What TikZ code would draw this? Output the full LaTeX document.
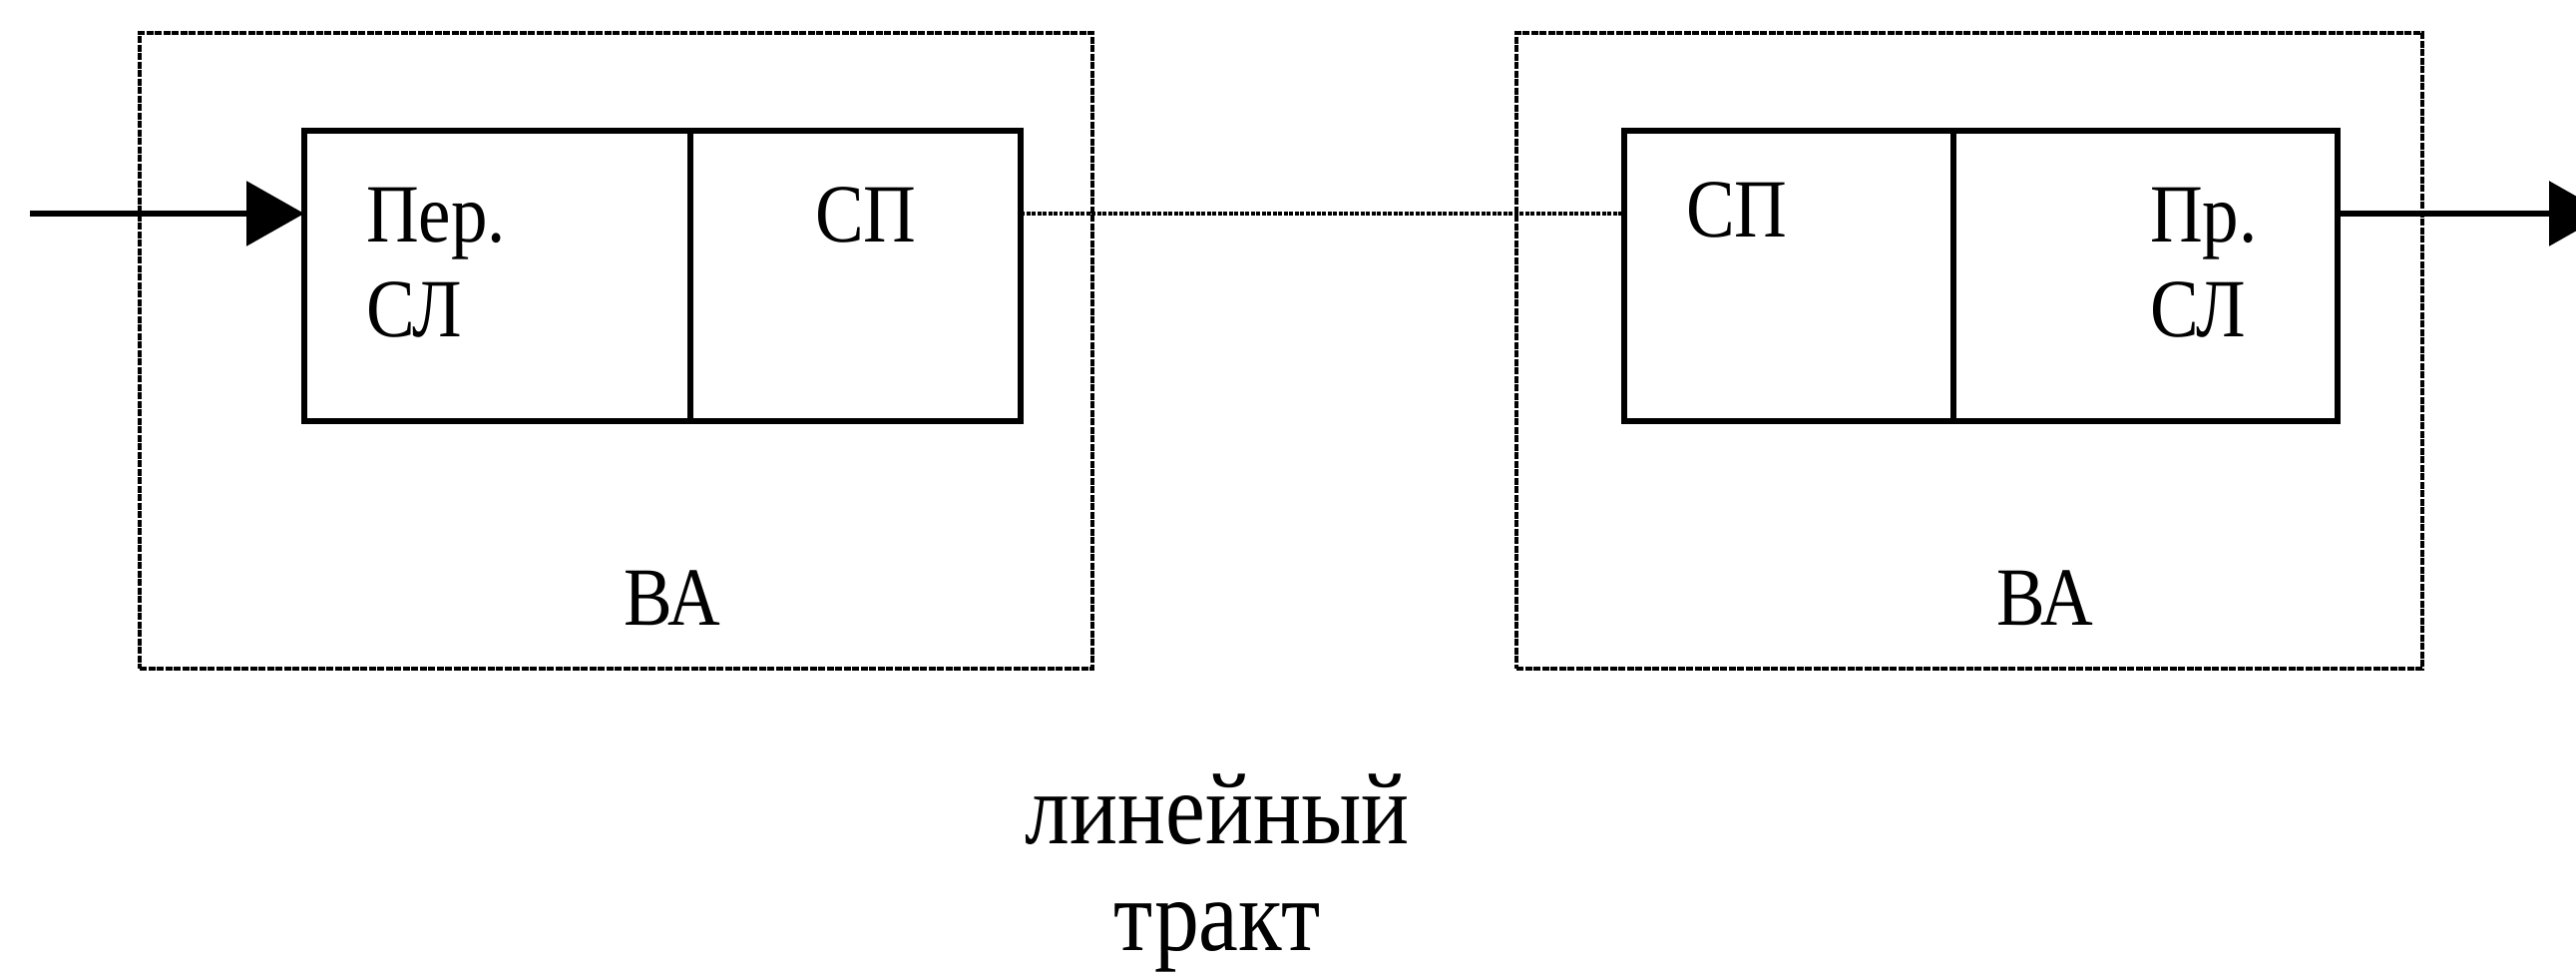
\documentclass[tikz,border=0pt]{standalone}
\usepackage{fontspec}
\setmainfont{Liberation Serif}[FakeStretch=0.88]
\usetikzlibrary{arrows.meta,positioning}

\begin{document}
\begin{tikzpicture}[every node/.style={inner sep=0pt,outer sep=0pt}]
\tikzstyle{va}=[draw,line width=0.045cm,dash pattern=on 0.07cm off 0.015cm,minimum height=6.37cm]
\tikzstyle{cell}=[draw,line width=0.055cm,minimum height=2.91cm]
\tikzstyle{lbl}=[font=\fontsize{23.6}{27}\selectfont,align=left]
\tikzstyle{sig}=[line width=0.06cm,-{Triangle[length=0.58cm,width=0.64cm]}]
\useasboundingbox (0,0) rectangle (25.82,9.78);
\clip (0,0) rectangle (25.82,9.78);
% stations
\node[va,minimum width=9.55cm] (lva) at (6.175,6.265) {};
\node[va,minimum width=9.08cm] (rva) at (19.74,6.265) {};
\node[cell,minimum width=3.87cm] (lper) at (4.985,7.015) {};
\node[cell,minimum width=3.31cm,right=0pt of lper] (lsp) {};
\node[cell,minimum width=3.30cm] (rsp) at (17.93,7.015) {};
\node[cell,minimum width=3.85cm,right=0pt of rsp] (rpr) {};
\node[lbl,anchor=north west] (tper) at (3.67,7.90) {Пер.\\СЛ};
\node[lbl,anchor=north west] (tlsp) at (8.17,7.90) {СП};
\node[lbl,anchor=north west] (trsp) at (16.90,7.95) {СП};
\node[lbl,anchor=north west] (tpr) at (21.55,7.90) {Пр.\\СЛ};
\node[lbl,anchor=base] (tlva) at (6.735,3.51) {ВА};
\node[lbl,anchor=base] (trva) at (20.50,3.51) {ВА};
% line path
\node[font=\fontsize{29}{33}\selectfont,anchor=base] (lin) at (12.20,1.32) {линейный};
\node[font=\fontsize{29}{33}\selectfont,anchor=base] (trk) at (12.20,0.25) {тракт};
\coordinate (in) at (0.30,7.64);
\coordinate (out) at (26.13,7.64);
\draw[sig] (in) -- (in -| lper.west);
\draw[sig] (out -| rpr.east) -- (out);
\draw[line width=0.035cm,dash pattern=on 0.04cm off 0.015cm] (lsp.east |- in) -- (rsp.west |- in);
\end{tikzpicture}
\end{document}
